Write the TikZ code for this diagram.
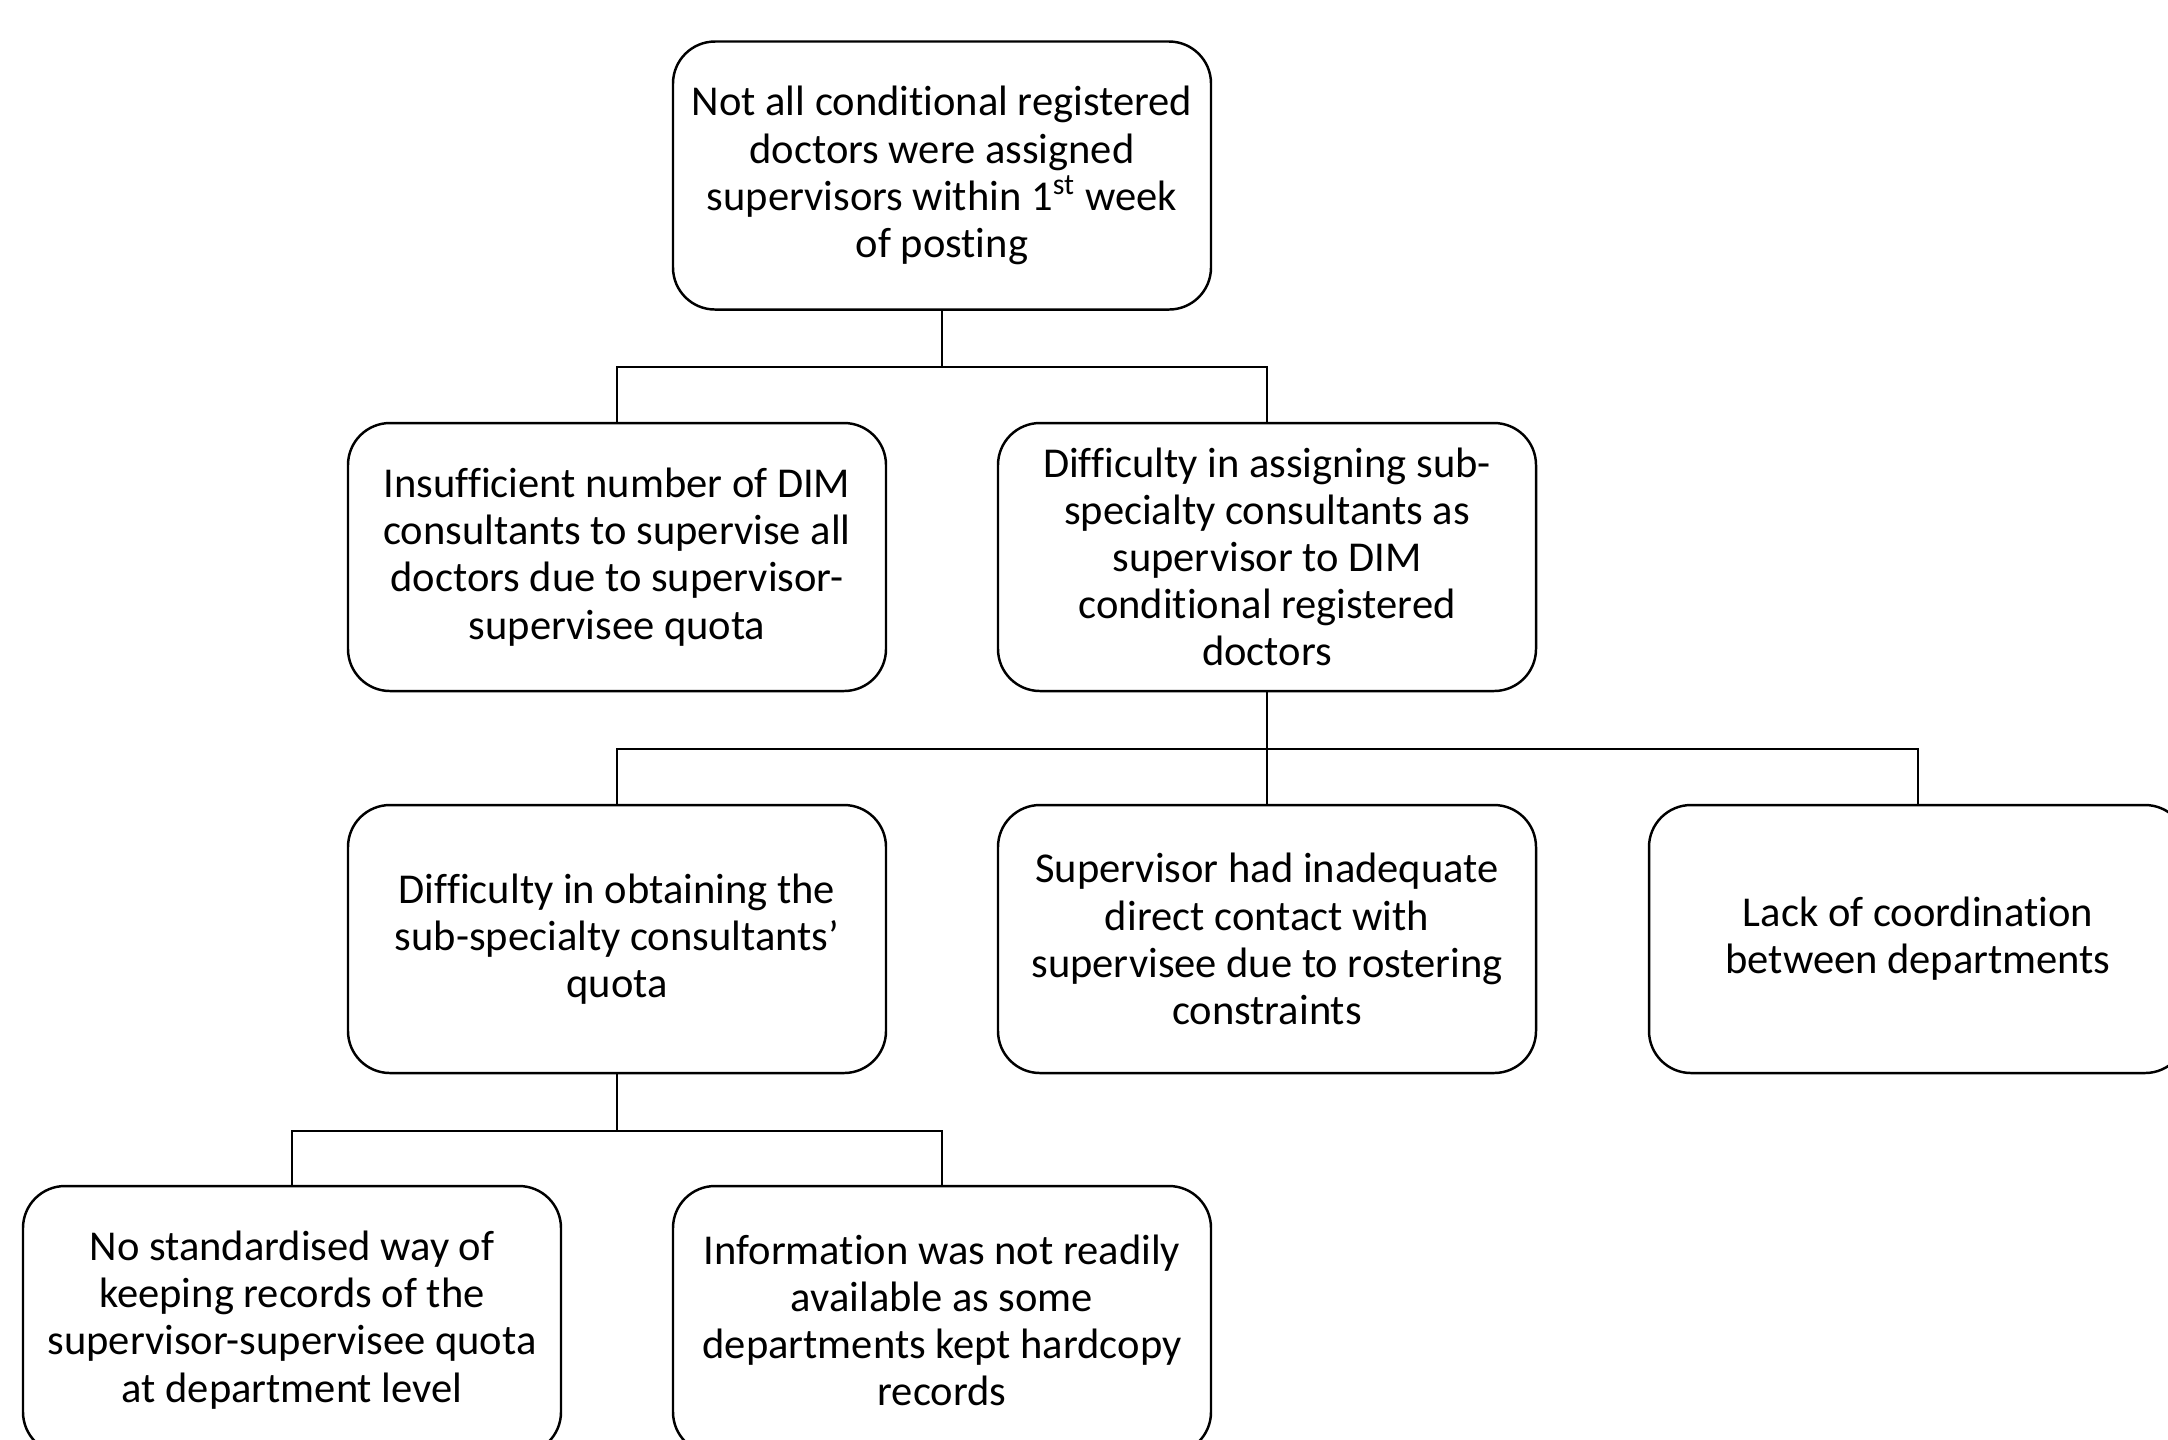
\documentclass[tikz,border=0pt]{standalone}
\usepackage{fontspec}
\setmainfont{Carlito}[Ligatures=CommonOff]
\usetikzlibrary{shapes}

\begin{document}
\begin{tikzpicture}[x=1cm,y=1cm,
    cause/.style={draw,rectangle,rounded corners=0.42cm,line width=0.7pt,
      align=center,minimum width=5.38cm,minimum height=2.68cm,inner sep=0pt,
      font=\fontsize{12.1}{13.4}\selectfont}]
  \clip (0,0) rectangle (21.68,-14.39);
  \node[cause] (C0) at (9.42,-1.755) {Not all conditional registered\\
    doctors were assigned\\
    supervisors within 1\textsuperscript{st} week\\
    of posting};
  \node[cause] (C1) at (6.17,-5.57) {Insufficient number of DIM\\
    consultants to supervise all\\
    doctors due to supervisor-\\
    supervisee quota};
  \node[cause] (C2) at (12.67,-5.57) {Difficulty in assigning sub-\\
    specialty consultants as\\
    supervisor to DIM\\
    conditional registered\\
    doctors};
  \node[cause] (C3) at (6.17,-9.39) {Difficulty in obtaining the\\
    sub-specialty consultants'\\
    quota};
  \node[cause] (C4) at (12.67,-9.39) {Supervisor had inadequate\\
    direct contact with\\
    supervisee due to rostering\\
    constraints};
  \node[cause] (C5) at (19.18,-9.39) {Lack of coordination\\
    between departments};
  \node[cause] (C6) at (2.92,-13.20) {No standardised way of\\
    keeping records of the\\
    supervisor-supervisee quota\\
    at department level};
  \node[cause] (C7) at (9.42,-13.20) {Information was not readily\\
    available as some\\
    departments kept hardcopy\\
    records};

  \draw[line width=0.7pt] (C0.south) -- ++(0,-0.565) -| (C1.north);
  \draw[line width=0.7pt] (C0.south) -- ++(0,-0.565) -| (C2.north);
  \draw[line width=0.7pt] (C2.south) -- ++(0,-0.565) -| (C3.north);
  \draw[line width=0.7pt] (C2.south) -- (C4.north);
  \draw[line width=0.7pt] (C2.south) -- ++(0,-0.565) -| (C5.north);
  \draw[line width=0.7pt] (C3.south) -- ++(0,-0.565) -| (C6.north);
  \draw[line width=0.7pt] (C3.south) -- ++(0,-0.565) -| (C7.north);
\end{tikzpicture}
\end{document}
